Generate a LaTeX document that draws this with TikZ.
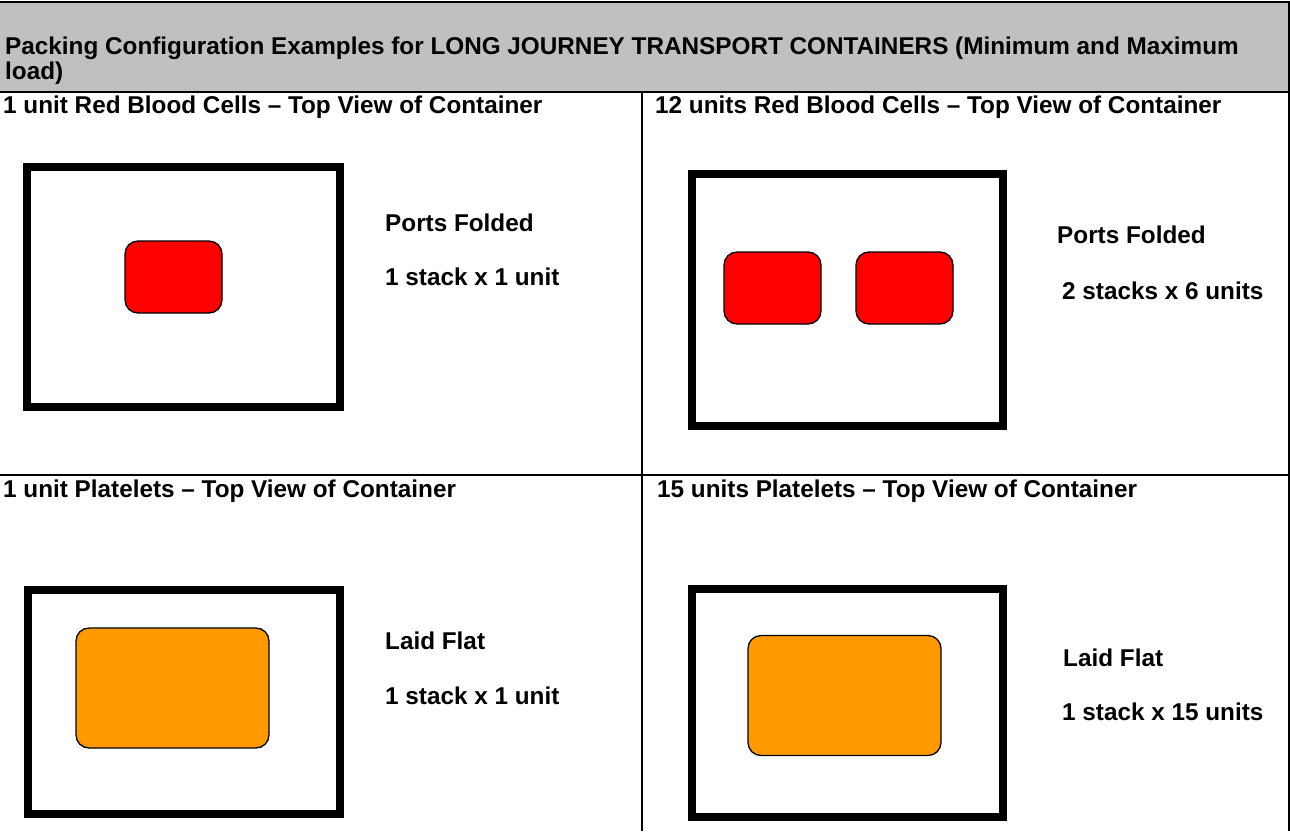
\documentclass[tikz,border=0pt]{standalone}
\usepackage{fontspec}
\setmainfont{Liberation Sans}
\definecolor{headgray}{HTML}{C0C0C0}
\definecolor{rbcred}{HTML}{FF0000}
\definecolor{pltorange}{HTML}{FF9900}
\begin{document}
\begin{tikzpicture}[x=1pt,y=-1pt,
  txt/.style={anchor=base west,inner sep=0pt,font=\fontsize{24.3}{25}\selectfont\bfseries},
  rule/.style={line width=2pt},
  bag/.style={draw,line width=1.3pt,rounded corners=13pt,inner sep=0pt},
  rbc/.style={bag,fill=rbcred,minimum width=97pt,minimum height=72pt},
  plt/.style={bag,fill=pltorange,minimum width=193pt,minimum height=120pt}]
\useasboundingbox (0,0) rectangle (1290,831);
\newcommand\packbox[4]{
\draw[line width=8pt] (#1,#2) rectangle (#3,#4);
}
% table
\fill[headgray] (0,2) rectangle (1289,92);
\draw[rule] (0,2) -- (1289,2) -- (1289,831);
\draw[rule] (0,92) -- (1289,92);
\draw[rule] (0,475) -- (1289,475);
\draw[rule] (642,92) -- (642,831);
\node[txt,align=left] (head) at (5,79) {Packing Configuration Examples for LONG JOURNEY TRANSPORT CONTAINERS (Minimum and Maximum\\load)};
% red blood cells
\node[txt] (t1) at (3,113) {1 unit Red Blood Cells -- Top View of Container};
\node[txt] (t2) at (655,113) {12 units Red Blood Cells -- Top View of Container};
\packbox{27}{167}{340}{407}
\node[rbc] (r1) at (173.5,277) {};
\node[txt] (p1) at (385,231) {Ports Folded};
\node[txt] (s1) at (385,285) {1 stack x 1 unit};
\packbox{692}{174}{1003}{426}
\node[rbc] (r2) at (772.5,288) {};
\node[rbc] (r3) at (904.5,288) {};
\node[txt] (p2) at (1057,243) {Ports Folded};
\node[txt] (s2) at (1062,299) {2 stacks x 6 units};
% platelets
\node[txt] (t3) at (3,497) {1 unit Platelets -- Top View of Container};
\node[txt] (t4) at (657,497) {15 units Platelets -- Top View of Container};
\packbox{28}{590}{340}{814}
\node[plt] (o1) at (172.5,688) {};
\node[txt] (l1) at (385,649) {Laid Flat};
\node[txt] (s3) at (385,704) {1 stack x 1 unit};
\packbox{692}{589}{1003}{817}
\node[plt] (o2) at (844.5,695.5) {};
\node[txt] (l2) at (1063,666) {Laid Flat};
\node[txt] (s4) at (1062,720) {1 stack x 15 units};
\end{tikzpicture}
\end{document}
